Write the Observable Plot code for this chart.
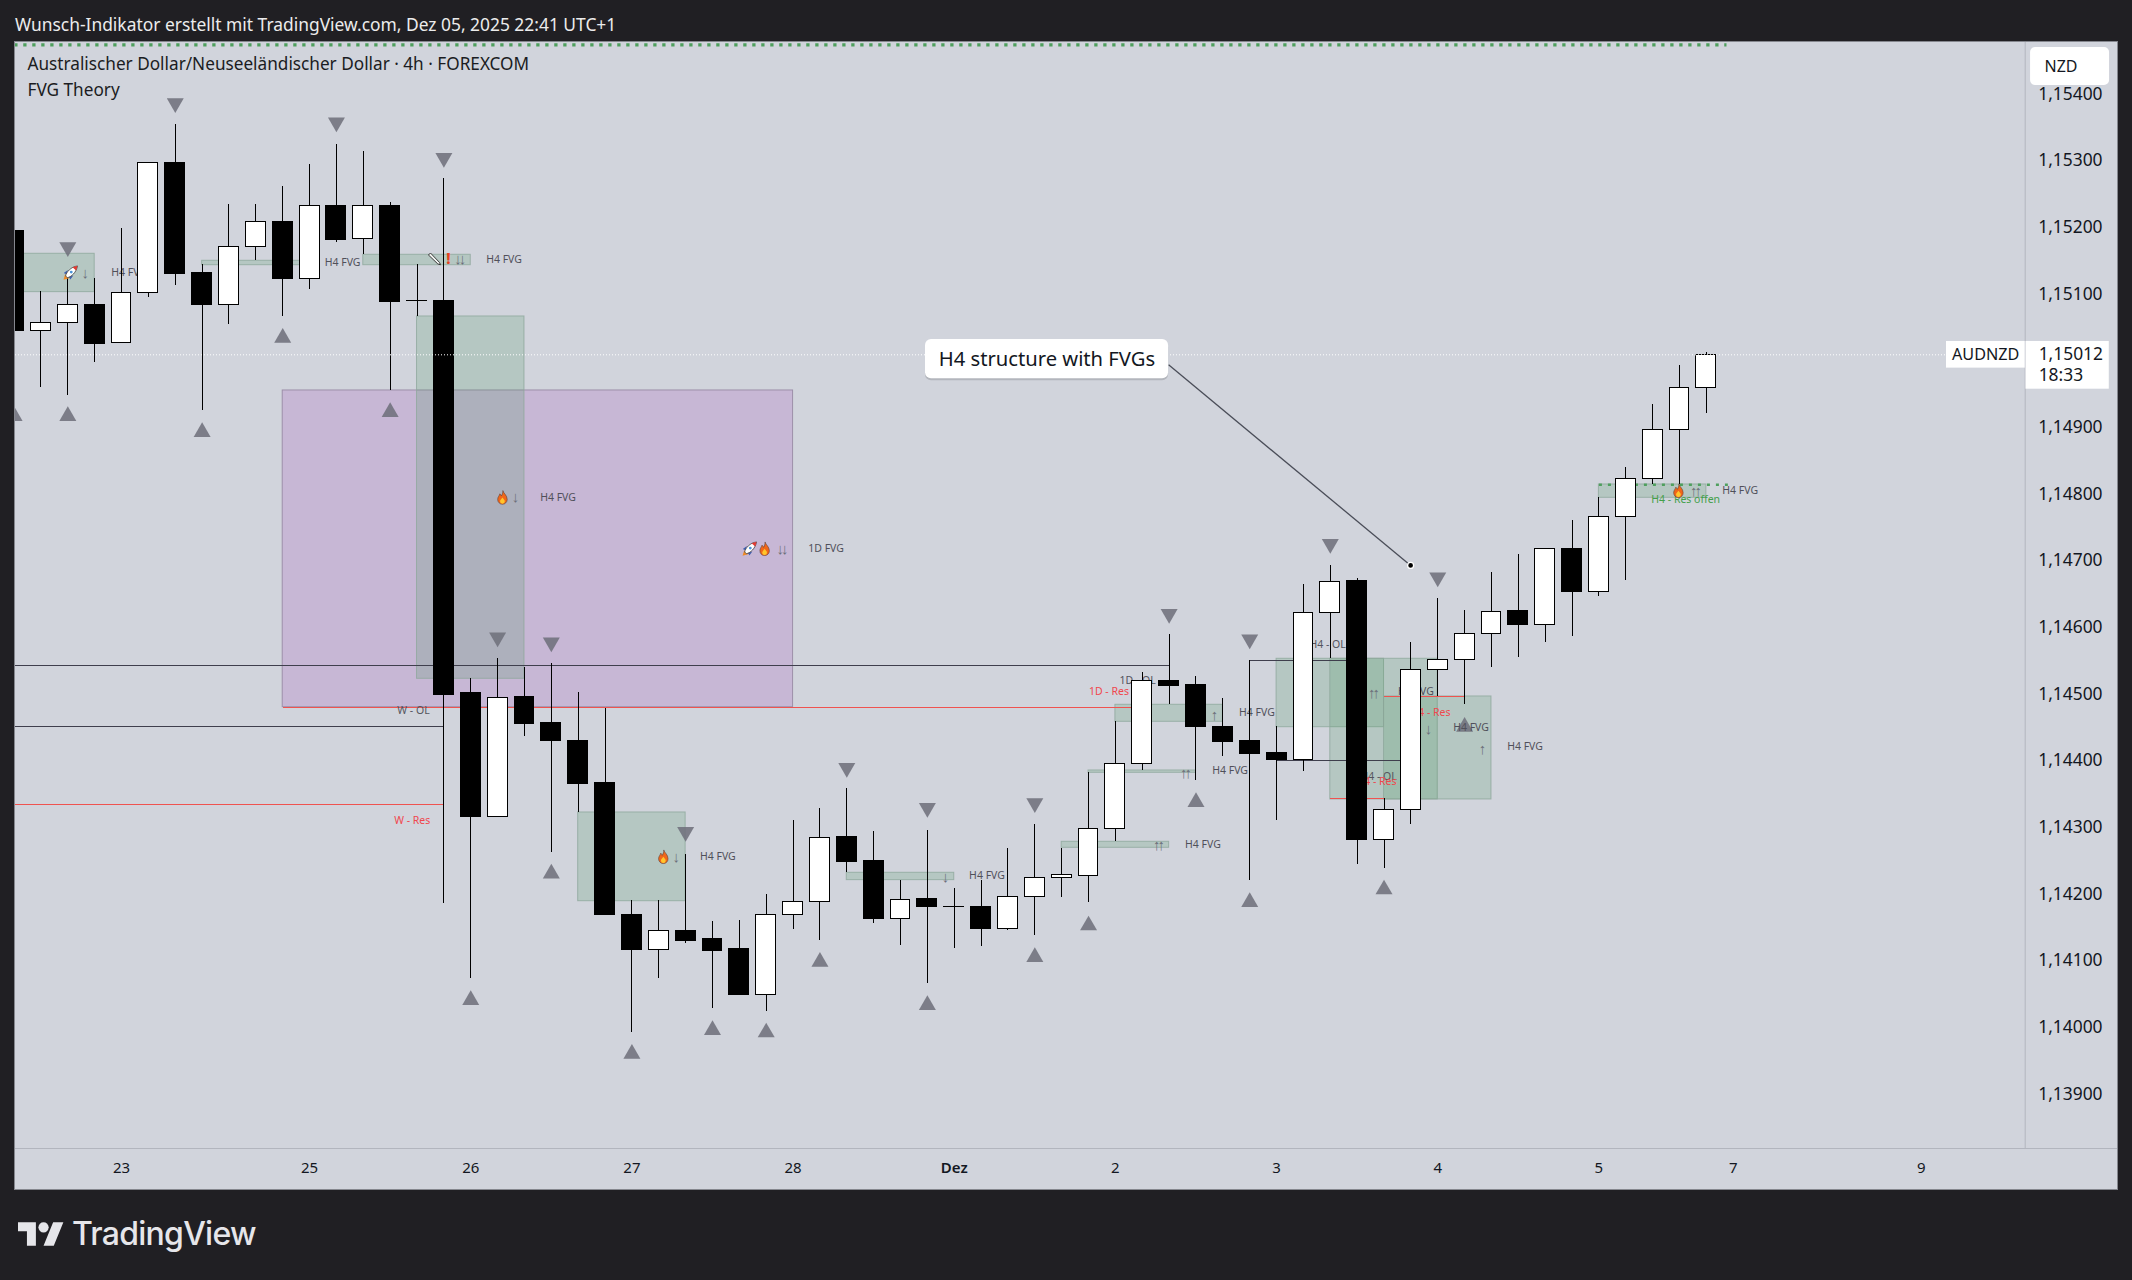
<!DOCTYPE html>
<html><head><meta charset="utf-8">
<script src="https://cdn.jsdelivr.net/npm/d3@7"></script>
<script src="https://cdn.jsdelivr.net/npm/@observablehq/plot@0.6"></script>
<style>
html,body{margin:0;padding:0;background:#201f23;width:2132px;height:1280px;overflow:hidden}
#head{height:42px;box-sizing:border-box;padding:14px 0 0 15px;color:#ececec;font:17.4px/20px "Noto Sans",sans-serif;white-space:nowrap}
#chart{padding-left:15px;height:1147px}
#chart svg{display:block;background:#d1d4dc;outline:1px solid #85878e}
#foot{height:91px;position:relative;color:#e6e6ea;font:500 32px/40px Inter,sans-serif}
#foot svg{position:absolute;left:18px;top:33px}
#foot span{position:absolute;left:72px;top:25px;letter-spacing:-.75px}
</style></head><body>
<div id="head">Wunsch-Indikator erstellt mit TradingView.com, Dez 05, 2025 22:41 UTC+1</div>
<div id="chart"></div>
<div id="foot"><svg width="46" height="24" viewBox="0 0 36 18.5"><path fill="#e6e6ea" d="M14 18.5H7V7H0V0h14zM28 18.5h-8L27.5 0h8z"/><circle fill="#e6e6ea" cx="20" cy="4" r="4"/></svg><span>TradingView</span></div>
<script>
const opens=[1.15198,1.15047,1.15060,1.15086,1.15029,1.15104,1.15300,1.15134,1.15087,1.15174,1.15211,1.15126,1.15235,1.15185,1.15235,1.15093,1.15093,1.14504,1.14318,1.14498,1.14459,1.14433,1.14369,1.14172,1.14119,1.14148,1.14135,1.14120,1.14051,1.14171,1.14191,1.14288,1.14252,1.14165,1.14195,1.14184,1.14184,1.14150,1.14198,1.14227,1.14230,1.14300,1.14398,1.14523,1.14516,1.14454,1.14432,1.14414,1.14404,1.14625,1.14672,1.14284,1.14329,1.14539,1.14554,1.14593,1.14627,1.14607,1.14721,1.14656,1.14769,1.14826,1.14899,1.14962];
const highs=[1.15198,1.15107,1.15134,1.15127,1.15202,1.15300,1.15358,1.15147,1.15237,1.15238,1.15265,1.15297,1.15328,1.15317,1.15241,1.15147,1.15276,1.14526,1.14556,1.14543,1.14549,1.14506,1.14482,1.14193,1.14194,1.14263,1.14162,1.14163,1.14203,1.14313,1.14332,1.14361,1.14297,1.14224,1.14299,1.14212,1.14223,1.14271,1.14307,1.14272,1.14385,1.14462,1.14535,1.14592,1.14529,1.14496,1.14553,1.14454,1.14667,1.14696,1.14676,1.14346,1.14580,1.14646,1.14628,1.14685,1.14713,1.14722,1.14763,1.14798,1.14843,1.14938,1.14996,1.15015];
const lows=[1.15047,1.14963,1.14951,1.15001,1.15029,1.15098,1.15116,1.14928,1.15058,1.15153,1.15070,1.15110,1.15181,1.15162,1.14958,1.15070,1.14189,1.14077,1.14318,1.14440,1.14266,1.14326,1.14171,1.13996,1.14077,1.14129,1.14032,1.14051,1.14027,1.14150,1.14133,1.14235,1.14159,1.14126,1.14069,1.14122,1.14125,1.14148,1.14141,1.14198,1.14190,1.14282,1.14389,1.14487,1.14374,1.14410,1.14223,1.14314,1.14387,1.14556,1.14248,1.14242,1.14308,1.14499,1.14487,1.14543,1.14558,1.14581,1.14589,1.14650,1.14674,1.14817,1.14818,1.14924];
const closes=[1.15047,1.15060,1.15086,1.15028,1.15104,1.15300,1.15133,1.15086,1.15174,1.15211,1.15125,1.15235,1.15184,1.15235,1.15091,1.15092,1.14502,1.14318,1.14497,1.14458,1.14432,1.14368,1.14171,1.14119,1.14148,1.14133,1.14118,1.14051,1.14172,1.14191,1.14287,1.14251,1.14165,1.14194,1.14183,1.14183,1.14150,1.14199,1.14227,1.14231,1.14300,1.14398,1.14523,1.14515,1.14453,1.14431,1.14413,1.14404,1.14625,1.14671,1.14284,1.14329,1.14539,1.14554,1.14593,1.14626,1.14606,1.14721,1.14656,1.14769,1.14826,1.14899,1.14962,1.15012];
const candles=opens.map((o,i)=>({i,o,h:highs[i],l:lows[i],c:closes[i]}));

// Fair value gaps: first bar, last bar, upper and lower price
const gapStart=[-1,7,13,15,21,31,39,40,41,47,49,51,59];
const gapEnd=[3,11,17,19,25,35,43,44,45,51,53,55,63];
const gapTop=[1.151635,1.15153,1.15162,1.150695,1.143255,1.14235,1.142815,1.143885,1.14487,1.14556,1.14556,1.144995,1.148175];
const gapBottom=[1.15106,1.151464,1.151464,1.14526,1.141924,1.14224,1.142725,1.14385,1.144615,1.144534,1.14345,1.14345,1.147975];
const gaps=gapStart.map((a,k)=>({a,b:gapEnd[k],t:gapTop[k],u:gapBottom[k]}));
const dailyGap=[{a:10,b:29,t:1.149585,u:1.144834}];

// Level lines
const levelStart=[-1,-1,46,47];
const levelEnd=[43,16,50,52];
const levelPrice=[1.145455,1.14454,1.14553,1.14404];
const resStart=[-1,10,49,51];
const resEnd=[16,42,51,54];
const resPrice=[1.14337,1.144834,1.14346,1.144995];

// Text labels
const fvgX=[4.28,12.23,18.24,20.25,26.2,36.22,44.26,45.27,46.27,52.19,54.24,56.25,64.26];
const fvgP=[1.15135,1.1515,1.15155,1.14798,1.14259,1.14231,1.14277,1.14388,1.14475,1.14507,1.14453,1.14424,1.14808];
const fvgRows=fvgX.map((x,k)=>({x,p:fvgP[k],t:"H4 FVG"})).concat([{x:30.23,p:1.14721,t:"1D FVG"}]);
const levelText=["W - OL","W - Res","1D - OL","1D - Res","H4 - OL","H4 - OL","H4 - Res","H4 - Res","H4 - Res offen"];
const levelX=[14.87,14.82,41.83,40.76,48.9,50.8,50.72,52.73,62.23];
const levelP=[1.14478,1.14313,1.14523,1.14507,1.14577,1.14379,1.14372,1.14475,1.14795];
const levelInk=["#54545e","#f0484e","#54545e","#f0484e","#54545e","#54545e","#f0484e","#f0484e","#43a04a"];
const levelRows=levelText.map((t,k)=>({t,x:levelX[k],p:levelP[k],c:levelInk[k]}));
const arrowText=["↓","↓↓","↓","↓↓","↓","↓","↑↑","↑↑","↑","↑↑","↓","↑","↑↑"];
const arrowX=[2.65,16.55,18.67,28.55,24.65,34.67,42.57,43.57,44.69,50.57,52.66,54.67,62.56];
const arrowP=[1.15135,1.15156,1.14798,1.14721,1.14259,1.14228,1.14276,1.14384,1.14472,1.14504,1.1445,1.1442,1.14808];
const arrowRows=arrowText.map((t,k)=>({t,x:arrowX[k],p:arrowP[k]}));

// Swing markers
const swingHighBar=[2,6,12,16,18,20,25,31,34,38,43,46,49,53];
const swingHighP=[1.1517,1.15386,1.15357,1.15304,1.145845,1.14577,1.14293,1.14389,1.14329,1.14336,1.1462,1.145815,1.14725,1.146745];
const swingLowBar=[0,2,7,10,14,17,20,23,26,28,30,34,38,40,44,46,51,54];
const swingLowP=[1.149235,1.149235,1.148995,1.15041,1.149295,1.140475,1.142374,1.13967,1.140025,1.13999,1.14105,1.1404,1.14112,1.141595,1.143445,1.141945,1.142135,1.144575];
const highs2=swingHighBar.map((i,k)=>({i,p:swingHighP[k]}));
const lows2=swingLowBar.map((i,k)=>({i,p:swingLowP[k]}));

// Icons
const svgUri=s=>"data:image/svg+xml,"+encodeURIComponent(s);
const flame=svgUri('<svg xmlns="http://www.w3.org/2000/svg" viewBox="0 0 12 16"><path fill="#f0661a" stroke="#5a3a30" stroke-width=".6" d="M6.5.5C7 3.5 11.2 5.5 11.2 10.2a5.2 5.2 0 0 1-10.4 0C.8 7.4 2.6 6.2 3.2 4 4 4.8 4.6 5.8 4.8 6.4 6 4.6 6.6 2.4 6.5.5z"/><path fill="#ffc62b" d="M6 8c1 1.5 2.6 2.6 2.6 4.2a2.6 2.6 0 0 1-5.2 0C3.4 10.6 5 9.6 6 8z"/></svg>');
const rocket=svgUri('<svg xmlns="http://www.w3.org/2000/svg" viewBox="0 0 16 16"><path fill="#f08a24" d="M.5 15.5l1.8-6 4.2 4.2z"/><path fill="#3f5fb0" d="M3.4 9.6L.8 8.2 5.2 5zM6.4 12.6l1.4 2.6 3.2-4.4z"/><path fill="#fff" stroke="#333" stroke-width=".8" d="M2.8 11.4C3.6 7 8.4 1.8 15.4.6c-1.2 7-6.4 11.8-10.8 12.6z"/><path fill="#e23a32" d="M10.2 2L15.4.6c-.3 1.8-.8 3.4-1.5 5z"/><circle cx="8.8" cy="7.2" r="1.5" fill="#4b93d8"/></svg>');
const pencil=svgUri('<svg xmlns="http://www.w3.org/2000/svg" viewBox="0 0 14 14"><path fill="#eef0ee" stroke="#3c3c3c" stroke-width="1" d="M1 3.2L3 1.2 12 10.6 13 13 10.4 12.2z"/></svg>');
const flameX=[18.18,24.17,27.94,61.96];
const flameP=[1.14798,1.14259,1.14721,1.14808];
const flames=flameX.map((x,k)=>({x,p:flameP[k]}));
const rocketX=[2.1,27.38];
const rocketP=[1.15135,1.14721];
const rockets=rocketX.map((x,k)=>({x,p:rocketP[k]}));

// Axes
const yTicks=[1.139,1.14,1.141,1.142,1.143,1.144,1.145,1.146,1.147,1.148,1.149,1.151,1.152,1.153,1.154];
const xTickBars=[4,11,17,23,29,41,47,53,59,64,71];
const xTickText=["23","25","26","27","28","2","3","4","5","7","9"];
const monthBar=[35];
const lastPrice=[1.15012];

const grey="#6f717c";
const font='"Noto Sans",sans-serif';
const box={stroke:"#8ea89c",strokeWidth:1,strokeOpacity:.8,fill:"#46965a",fillOpacity:.2,clip:true};

const plot=Plot.plot({
  width:2102,height:1147,marginLeft:0,marginRight:92.3,marginTop:0,marginBottom:41,
  style:{fontFamily:font,background:"#d1d4dc",color:"#131722",overflow:"visible"},
  x:{domain:[0.052,74.87],axis:null},
  y:{domain:[1.1382145,1.1548045],axis:null},
  marks:[
    Plot.axisY({anchor:"right",ticks:yTicks,tickFormat:d=>d.toFixed(5).replace(".",","),tickSize:0,tickPadding:13,dy:-2,fontSize:17.4,label:null,fill:"#131722"}),
    Plot.axisX({anchor:"bottom",ticks:xTickBars,tickFormat:d=>xTickText[xTickBars.indexOf(d)],tickSize:0,tickPadding:14,fontSize:15,label:null,fill:"#131722"}),
    Plot.axisX({anchor:"bottom",ticks:monthBar,tickFormat:()=>"Dez",tickSize:0,tickPadding:14,fontSize:15,fontWeight:600,label:null,fill:"#131722"}),
    Plot.ruleX([74.87],{stroke:"#b2b5be"}),
    Plot.ruleY([1.1382145],{x1:0.052,x2:78.31,stroke:"#b2b5be"}),

    Plot.rect(dailyGap,{x1:"a",x2:"b",y1:"u",y2:"t",fill:"#9c27b0",fillOpacity:.17,stroke:"#9d8fa9",strokeWidth:1,clip:true}),
    Plot.rect(gaps,{x1:"a",x2:"b",y1:"u",y2:"t",...box}),

    Plot.link(levelStart,{x1:d=>d,x2:(d,k)=>levelEnd[k],y1:(d,k)=>levelPrice[k],y2:(d,k)=>levelPrice[k],stroke:"#3f3f4d",strokeWidth:1,clip:true,shapeRendering:"crispEdges"}),
    Plot.link(resStart,{x1:d=>d,x2:(d,k)=>resEnd[k],y1:(d,k)=>resPrice[k],y2:(d,k)=>resPrice[k],stroke:"#ef5350",strokeWidth:1,clip:true,shapeRendering:"crispEdges"}),
    Plot.link([-1],{x1:d=>d,x2:()=>63.75,y1:()=>1.15477,y2:()=>1.15477,stroke:"#4f9f5e",strokeWidth:3.3,strokeDasharray:"3.3 5.7",clip:true}),
    Plot.link([59],{x1:d=>d,x2:()=>63.8,y1:()=>1.14817,y2:()=>1.14817,stroke:"#4f9f5e",strokeWidth:2.5,strokeDasharray:"3 6"}),

    Plot.dot(highs2,{x:"i",y:"p",symbol:"triangle",r:6.3,rotate:180,dy:-2.3,fill:grey,fillOpacity:.88,stroke:"none",clip:true}),
    Plot.dot(lows2,{x:"i",y:"p",symbol:"triangle",r:6.3,dy:2.3,fill:grey,fillOpacity:.88,stroke:"none",clip:true}),

    Plot.text(fvgRows,{x:"x",y:"p",text:"t",fontSize:10.5,fill:"#50505a"}),
    Plot.text(levelRows,{x:"x",y:"p",text:"t",fontSize:10.5,fill:"c"}),
    Plot.text(arrowRows,{x:"x",y:"p",text:"t",fontSize:15,fontFamily:'"Liberation Sans",sans-serif',fill:"#6d707b"}),

    Plot.ruleX(candles,{x:"i",y1:"l",y2:"h",stroke:"#000",strokeWidth:1,clip:true,shapeRendering:"crispEdges"}),
    Plot.rect(candles,{x1:d=>d.i-.37,x2:d=>d.i+.37,y1:"o",y2:"c",fill:d=>d.c>d.o?"#fff":"#000",stroke:"#000",strokeWidth:1,clip:true,shapeRendering:"crispEdges"}),

    Plot.ruleY(lastPrice,{x1:0.052,x2:71.94,stroke:"#fff",strokeWidth:1,strokeDasharray:"1 2"}),

    Plot.image(flames,{x:"x",y:"p",src:flame,width:11,height:15}),
    Plot.image(rockets,{x:"x",y:"p",src:rocket,width:15,height:15}),
    Plot.image([{x:15.65,p:1.15156}],{x:"x",y:"p",src:pencil,width:14,height:14}),
    Plot.text([{x:16.17,p:1.15156}],{x:"x",y:"p",text:()=>"!",fontSize:15,fontWeight:800,fill:"#e8421e"}),

    // Callout
    Plot.link([1],{x1:()=>42.98,y1:()=>1.14997,x2:()=>51.99,y2:()=>1.14696,stroke:"#4a4d58",strokeWidth:1.3}),
    Plot.rect([1],{x1:()=>33.93,x2:()=>42.98,y1:()=>1.15035,y2:()=>1.14976,fill:"#000",fillOpacity:.14,rx:6,dy:2}),
    Plot.rect([1],{x1:()=>33.93,x2:()=>42.98,y1:()=>1.15035,y2:()=>1.14976,fill:"#fff",rx:6}),
    Plot.text([1],{x:()=>38.45,y:()=>1.15005,text:()=>"H4 structure with FVGs",fontSize:20.2,fill:"#131722"}),
    Plot.dot([1],{x:()=>51.99,y:()=>1.14696,r:3,fill:"#000",stroke:"#fff",strokeWidth:1.3}),

    // Price tags and currency button
    Plot.rect([1],{x1:()=>71.94,x2:()=>74.87,y1:()=>1.15032,y2:()=>1.14992,fill:"#fff"}),
    Plot.rect([1],{x1:()=>74.9,x2:()=>78,y1:()=>1.15032,y2:()=>1.149604,fill:"#fff"}),
    Plot.text([1],{x:()=>73.4,y:()=>1.150125,text:()=>"AUDNZD",fontSize:16.2,fill:"#131722"}),
    Plot.text(lastPrice,{x:()=>75.37,y:d=>d,dy:-.5,text:()=>"1,15012",textAnchor:"start",fontSize:17.4,fill:"#131722"}),
    Plot.text([1],{x:()=>75.37,y:()=>1.14981,text:()=>"18:33",textAnchor:"start",fontSize:17.4,fill:"#131722"}),
    Plot.rect([1],{x1:()=>75.07,x2:()=>78.01,y1:()=>1.15473,y2:()=>1.15416,fill:"#fff",rx:5}),
    Plot.text([1],{x:()=>75.59,y:()=>1.154445,text:()=>"NZD",textAnchor:"start",fontSize:16,fill:"#131722"}),

    // Legend
    Plot.text(["Australischer Dollar/Neuseeländischer Dollar · 4h · FOREXCOM"],{frameAnchor:"top-left",dx:12,dy:15.6,fontSize:17.2,fill:"#1b1c22",lineAnchor:"top"}),
    Plot.text(["FVG Theory"],{frameAnchor:"top-left",dx:12,dy:41.6,fontSize:17.2,fill:"#1b1c22",lineAnchor:"top"})
  ]
});
// Double arrows sit close together in the reference
d3.select(plot).selectAll("text").filter(function(){return /^[↑↓]{2}$/.test(this.textContent)}).attr("letter-spacing","-3px");
document.getElementById("chart").append(plot);
</script>
</body></html>
